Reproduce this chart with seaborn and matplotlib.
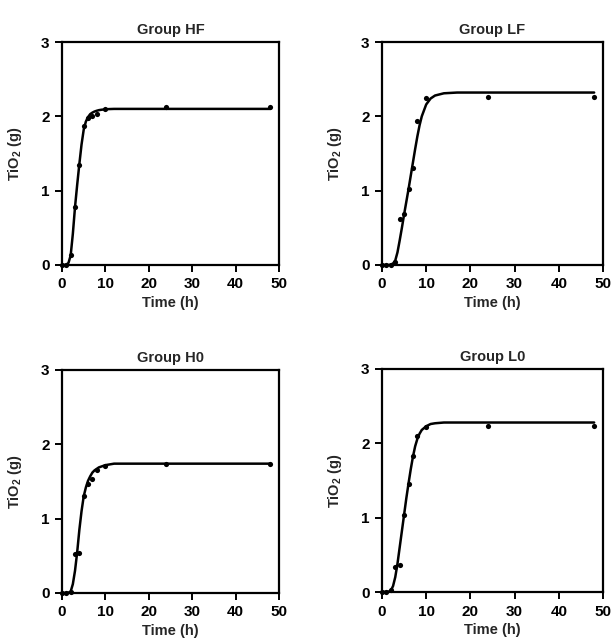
import matplotlib
matplotlib.use("Agg")
import matplotlib.pyplot as plt
import seaborn as sns
import pandas as pd

# measured points (time in h, TiO2 in g)
obs_time = [0, 1, 2, 3, 4, 5, 6, 7, 8, 10, 24, 48]
obs_hf = [0, 0, 0.13, 0.78, 1.35, 1.87, 1.98, 2.00, 2.03, 2.10, 2.12, 2.12]
obs_lf = [0, 0, 0, 0.04, 0.62, 0.69, 1.02, 1.30, 1.94, 2.25, 2.26, 2.26]
obs_h0 = [0, 0, 0.01, 0.52, 0.54, 1.31, 1.47, 1.53, 1.65, 1.71, 1.74, 1.74]
obs_l0 = [0, 0, 0.03, 0.34, 0.36, 1.03, 1.45, 1.83, 2.10, 2.22, 2.23, 2.23]

# fitted curves
fit_time = [0, 1, 1.5, 2, 2.5, 3, 3.5, 4, 4.5, 5, 5.5, 6, 6.5, 7, 7.5, 8, 8.5, 9,
            10, 11, 12, 14, 17, 20, 48]
fit_hf = [0, 0, 0.03, 0.13, 0.42, 0.78, 1.08, 1.36, 1.62, 1.82, 1.93, 1.99, 2.03,
          2.05, 2.065, 2.075, 2.083, 2.088, 2.095, 2.098, 2.1, 2.1, 2.1, 2.1, 2.1]
fit_lf = [0, 0, 0, 0.005, 0.02, 0.06, 0.17, 0.33, 0.5, 0.68, 0.85, 1.02, 1.2,
          1.38, 1.56, 1.73, 1.88, 2.0, 2.16, 2.24, 2.28, 2.31, 2.32, 2.32, 2.32]
fit_h0 = [0, 0, 0.005, 0.02, 0.12, 0.3, 0.55, 0.85, 1.1, 1.3, 1.42, 1.51, 1.57,
          1.62, 1.65, 1.67, 1.69, 1.7, 1.72, 1.73, 1.74, 1.74, 1.74, 1.74, 1.74]
fit_l0 = [0, 0, 0.005, 0.02, 0.08, 0.2, 0.38, 0.6, 0.82, 1.04, 1.26, 1.46, 1.65,
          1.82, 1.96, 2.06, 2.13, 2.18, 2.23, 2.26, 2.27, 2.28, 2.28, 2.28, 2.28]

groups = ["Group HF", "Group LF", "Group H0", "Group L0"]
obs_all = [obs_hf, obs_lf, obs_h0, obs_l0]
fit_all = [fit_hf, fit_lf, fit_h0, fit_l0]

sns.set_style("ticks")
plt.rcParams["font.family"] = ["Liberation Sans", "DejaVu Sans"]
plt.rcParams["font.weight"] = "bold"
plt.rcParams["mathtext.fontset"] = "custom"
plt.rcParams["mathtext.rm"] = "Liberation Sans:bold"
plt.rcParams["mathtext.default"] = "rm"

W, H = 611, 640
fig = plt.figure(figsize=(W / 100, H / 100), dpi=100)

# axes boxes in pixels: left, right, top, bottom
boxes = [(62, 279, 42, 265), (382, 603, 42, 265),
         (62, 279, 370, 593), (382, 603, 369, 592)]

for name, obs, fit, (l, r, t, b) in zip(groups, obs_all, fit_all, boxes):
    ax = fig.add_axes([l / W, 1 - b / H, (r - l) / W, (b - t) / H])
    fit_df = pd.DataFrame({"time": fit_time, "tio2": fit})
    obs_df = pd.DataFrame({"time": obs_time, "tio2": obs})
    sns.lineplot(data=fit_df, x="time", y="tio2", ax=ax, color="black",
                 linewidth=1.8, clip_on=False)
    sns.scatterplot(data=obs_df, x="time", y="tio2", ax=ax, color="black",
                    s=14, edgecolor="black", linewidth=0, clip_on=False, zorder=3)
    ax.set_xlim(0, 50)
    ax.set_ylim(0, 3)
    ax.set_xticks([0, 10, 20, 30, 40, 50])
    ax.set_yticks([0, 1, 2, 3])
    ax.set_title(name, fontsize=10.5, fontweight="bold", pad=6)
    ax.set_xlabel("Time (h)", fontsize=10.5, fontweight="bold", labelpad=3)
    ax.set_ylabel("TiO$_2$ (g)", fontsize=10.5, fontweight="bold", labelpad=12)
    for side in ["left", "right", "top", "bottom"]:
        ax.spines[side].set_linewidth(1.6)
        ax.spines[side].set_color("black")
    ax.tick_params(direction="out", length=5, width=1.4, labelsize=11,
                   colors="black", pad=4)
    for lab in ax.get_xticklabels() + ax.get_yticklabels():
        lab.set_fontweight("bold")

fig.savefig("out.png", dpi=100)
